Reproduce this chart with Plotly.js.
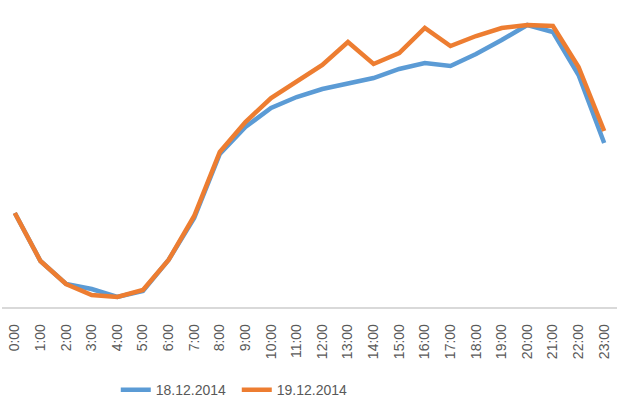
<!DOCTYPE html>
<html>
<head>
<meta charset="utf-8">
<script src="https://cdn.plot.ly/plotly-3.0.1.min.js"></script>
<style>html,body{margin:0;padding:0;background:#fff;}#chart{width:631px;height:409px;}</style>
</head>
<body>
<div id="chart"></div>
<script>
const hours = ["0:00","1:00","2:00","3:00","4:00","5:00","6:00","7:00","8:00","9:00","10:00","11:00","12:00","13:00","14:00","15:00","16:00","17:00","18:00","19:00","20:00","21:00","22:00","23:00"];
const series1Name = "18.12.2014";
const series1 = [94, 46, 23, 18, 10, 16, 47, 89, 153, 180, 199, 210, 218, 224, 229, 238, 244, 241, 253, 267, 282, 275, 232, 164];
const series2Name = "19.12.2014";
const series2 = [94, 46, 23, 12, 10, 17, 47, 91, 155, 185, 209, 225, 242, 265, 243, 254, 279, 261, 271, 279, 282, 281, 240, 176];

const traces = [
  {x: hours, y: series1, name: series1Name, type: "scatter", mode: "lines",
   line: {color: "#5B9BD5", width: 4.5}},
  {x: hours, y: series2, name: series2Name, type: "scatter", mode: "lines",
   line: {color: "#ED7D31", width: 4.5}}
];

const layout = {
  width: 631, height: 409,
  margin: {l: 2, r: 14, t: 7, b: 102},
  paper_bgcolor: "#fff", plot_bgcolor: "#fff",
  font: {family: "Liberation Sans, Arial, sans-serif", color: "#595959", size: 14},
  showlegend: true,
  legend: {orientation: "h", x: 0.185, xanchor: "left", y: -0.277, yanchor: "middle",
           font: {size: 14, color: "#595959"}, itemwidth: 30, entrywidth: 76},
  xaxis: {type: "category", range: [-0.5, 23.5], tickangle: -90,
          showgrid: false, zeroline: false, showline: true, linecolor: "#d9d9d9", linewidth: 1.5,
          ticks: "", ticklabelstandoff: 10, tickfont: {size: 14, color: "#595959"}},
  yaxis: {range: [0, 300], visible: false, showgrid: false, zeroline: false}
};

Plotly.newPlot("chart", traces, layout, {displayModeBar: false, staticPlot: true});
</script>
</body>
</html>
